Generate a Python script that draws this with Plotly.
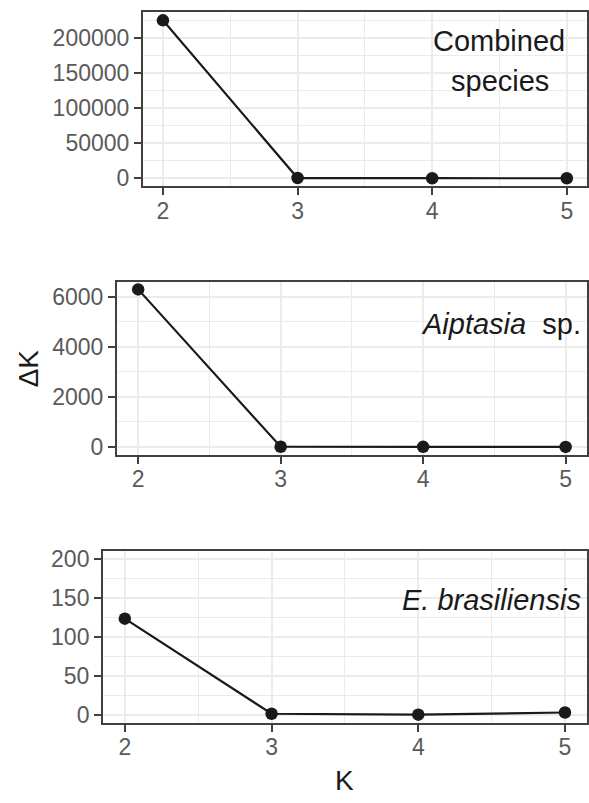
import plotly.graph_objects as go

K = [2, 3, 4, 5]
combined_dk = [225600, 400, 150, 100]
aiptasia_dk = [6285, 8, 5, 3]
ebras_dk = [123.5, 1.8, 0.6, 3.4]

W, H = 589, 803
FONT = "Liberation Sans, Arial, sans-serif"
TICK_COLOR = "#5a5a5a"
BORDER = "#404040"
GRID = "#EBEBEB"
INK = "#1a1a1a"

# panel boxes in pixels: (left, right, top, bottom)
boxes = [(143, 588, 7.5, 183.5), (117, 588, 280, 455.5), (103, 588, 553, 727)]

def xd(l, r):
    return [l / W, r / W]

def yd(t, b):
    return [1 - b / H, 1 - t / H]

fig = go.Figure()
series = [combined_dk, aiptasia_dk, ebras_dk]
for i, s in enumerate(series):
    n = "" if i == 0 else str(i + 1)
    fig.add_trace(go.Scatter(x=K, y=s, mode="lines+markers",
                             line=dict(color=INK, width=2.2),
                             marker=dict(color=INK, size=12.5),
                             xaxis="x" + n, yaxis="y" + n, showlegend=False))

yconf = [
    dict(range=[-11280, 236880], tickvals=[0, 50000, 100000, 150000, 200000], minorvals=[25000, 75000, 125000, 175000, 225000]),
    dict(range=[-314, 6599], tickvals=[0, 2000, 4000, 6000], minorvals=[1000, 3000, 5000]),
    dict(range=[-10, 210], tickvals=[0, 50, 100, 150, 200], minorvals=[25, 75, 125, 175]),
]

common_axis = dict(showline=True, linecolor=BORDER, linewidth=1.6, mirror=True,
                   ticks="outside", ticklen=7, tickwidth=1.6, tickcolor=BORDER,
                   gridcolor=GRID, gridwidth=2, zeroline=False,
                   tickfont=dict(family=FONT, size=23, color=TICK_COLOR))

for i, (l, r, t, b) in enumerate(boxes):
    n = "" if i == 0 else str(i + 1)
    anchor_y = "y" + n
    anchor_x = "x" + n
    fig.layout["xaxis" + n] = dict(common_axis, domain=xd(l, r), anchor=anchor_y,
                                   range=[1.85, 5.15], tickvals=K, ticktext=[str(k) for k in K],
                                   ticklabelstandoff=-4,
                                   minor=dict(tickvals=[2.5, 3.5, 4.5], showgrid=True, gridcolor=GRID, gridwidth=1, ticks=""))
    yc = yconf[i]
    fig.layout["yaxis" + n] = dict(common_axis, domain=yd(t, b), anchor=anchor_x,
                                   range=yc["range"], tickvals=yc["tickvals"],
                                   ticktext=[str(v) for v in yc["tickvals"]],
                                   minor=dict(tickvals=yc["minorvals"], showgrid=True, gridcolor=GRID, gridwidth=1, ticks=""))

ann = []
def add_text(text, x, y, size=29, xanchor="center", angle=0):
    ann.append(dict(text=text, x=x / W, y=1 - y / H, xref="paper", yref="paper",
                    xanchor=xanchor, yanchor="middle", showarrow=False, textangle=angle,
                    font=dict(family=FONT, size=size, color=INK)))

add_text("Combined", 500, 36)
add_text("species", 501, 77)
add_text("<i>Aiptasia</i>\u00a0 sp.", 584, 323, xanchor="right")
add_text("<i>E. brasiliensis</i>", 584, 602, xanchor="right")
add_text("ΔK", 28, 368, size=28, angle=-90)
add_text("K", 345, 785, size=28)

fig.update_layout(width=W, height=H, margin=dict(l=0, r=0, t=0, b=0),
                  paper_bgcolor="white", plot_bgcolor="white", annotations=ann,
                  font=dict(family=FONT))

fig.write_html("out.html", config={"displayModeBar": False},
               post_script="document.body.style.margin='0';document.body.style.overflow='hidden';")
